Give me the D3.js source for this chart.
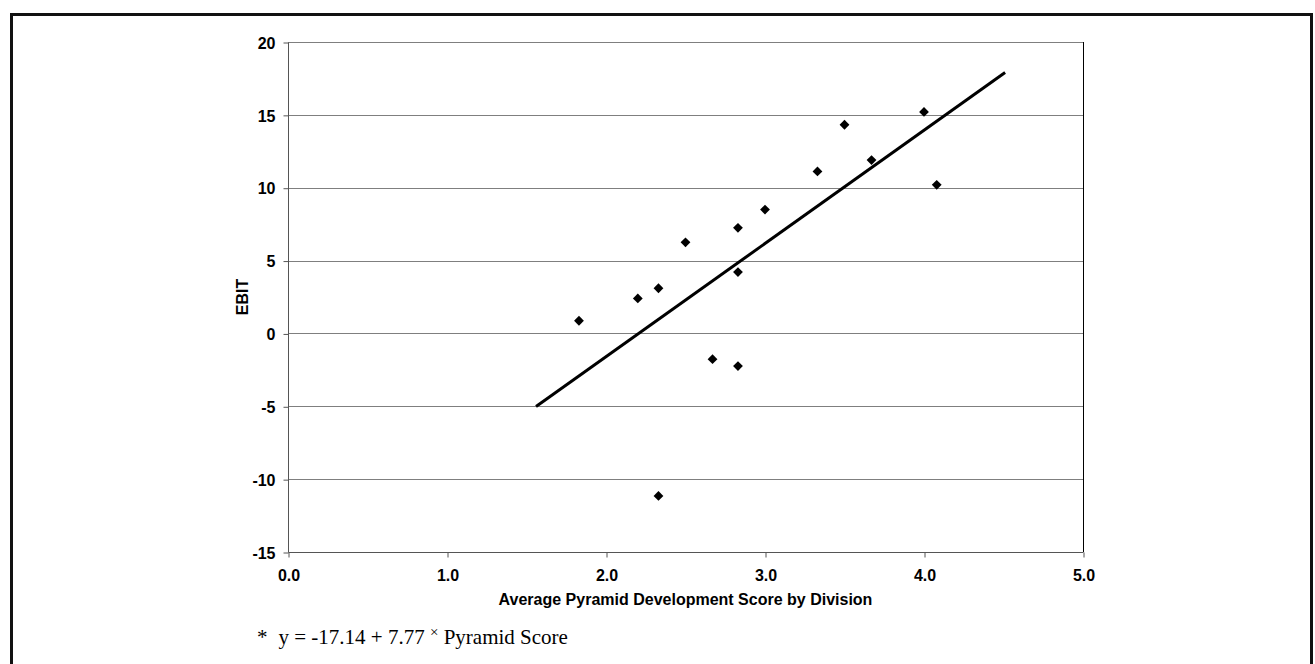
<!DOCTYPE html>
<html>
<head>
<meta charset="utf-8">
<style>
    body { margin: 0; background: #fff; }
    svg { display: block; }
    .tick text { font-family: Arial, 'Liberation Sans', sans-serif; font-weight: bold; font-size: 16px; fill: #000; }
    .axis-title { font-family: Arial, 'Liberation Sans', sans-serif; font-weight: bold; font-size: 16px; }
    .note { font-family: 'Times New Roman', 'Liberation Serif', serif; font-size: 21px; }
</style>
</head>
<body>
<svg width="1315" height="664"></svg>

<script src="https://d3js.org/d3.v7.min.js"></script>
<script>
// data
let scores = [1.83, 2.20, 2.33, 2.33, 2.50, 2.67, 2.83, 2.83, 2.83, 3.00, 3.33, 3.50, 3.67, 4.00, 4.08]
let ebit   = [0.87, 2.40, 3.10, -11.15, 6.25, -1.77, 7.25, 4.21, -2.24, 8.50, 11.12, 14.32, 11.90, 15.20, 10.20]

// fitted line, as given in the footnote
let intercept = -17.14
let slope = 7.77
let fitRange = [1.56, 4.51]

let xTicks = [0, 1, 2, 3, 4, 5]
let yTicks = [-15, -10, -5, 0, 5, 10, 15, 20]

let xTitle = "Average Pyramid Development Score by Division"
let yTitle = "EBIT"

let svg = d3.select("svg")

let margin = { left: 288, right: 1083, top: 42, bottom: 552 }

let x = d3.scaleLinear().domain([0, 5]).range([margin.left, margin.right])
let y = d3.scaleLinear().domain([-15, 20]).range([margin.bottom, margin.top])

// outer frame (bottom edge runs off the page)
svg.append("rect")
    .attr("x", 11.5).attr("y", 14.5)
    .attr("width", 1300).attr("height", 700)
    .attr("fill", "none")
    .attr("stroke", "#111")
    .attr("stroke-width", 3)

// gridlines
svg.append("g")
    .selectAll("line")
    .data(yTicks.filter(d => d > -15))
    .join("line")
    .attr("x1", margin.left).attr("x2", margin.right)
    .attr("y1", d => Math.round(y(d)) + 0.5)
    .attr("y2", d => Math.round(y(d)) + 0.5)
    .attr("stroke", "#7f7f7f")
    .attr("stroke-width", 1)

// right edge of the plot area
svg.append("line")
    .attr("x1", margin.right + 0.5).attr("x2", margin.right + 0.5)
    .attr("y1", margin.top).attr("y2", margin.bottom)
    .attr("stroke", "#000")

let xAxis = svg.append("g")
    .attr("transform", `translate(0.5,${margin.bottom + 0.5})`)
    .call(d3.axisBottom(x).tickValues(xTicks).tickFormat(d3.format(".1f")).tickSize(5).tickPadding(12))

let yAxis = svg.append("g")
    .attr("transform", `translate(${margin.left + 0.5},0.5)`)
    .call(d3.axisLeft(y).tickValues(yTicks).tickFormat(d => d < 0 ? "-" + Math.abs(d) : String(d)).tickSize(5).tickPadding(8))

xAxis.select(".domain").attr("stroke", "#555").attr("d", `M${margin.left},0H${margin.right}`)
yAxis.select(".domain").attr("stroke", "#555").attr("d", `M0,${margin.top}V${margin.bottom}`)
svg.selectAll(".tick line").attr("stroke", "#555")
yAxis.selectAll(".tick text").attr("dy", "0.36em")

// trend line
svg.append("line")
    .attr("x1", x(fitRange[0])).attr("y1", y(intercept + slope * fitRange[0]))
    .attr("x2", x(fitRange[1])).attr("y2", y(intercept + slope * fitRange[1]))
    .attr("stroke", "#000")
    .attr("stroke-width", 3)

// diamonds
let diamond = d3.symbol().type(d3.symbolSquare).size(48)
svg.append("g")
    .selectAll("path")
    .data(scores.map((s, i) => [s, ebit[i]]))
    .join("path")
    .attr("d", diamond)
    .attr("transform", d => `translate(${x(d[0])},${y(d[1])}) rotate(45)`)
    .attr("fill", "#000")

// axis titles
svg.append("text")
    .attr("class", "axis-title")
    .attr("x", (margin.left + margin.right) / 2)
    .attr("y", 605)
    .attr("text-anchor", "middle")
    .text(xTitle)

svg.append("text")
    .attr("class", "axis-title")
    .attr("transform", `translate(248,${(margin.top + margin.bottom) / 2}) rotate(-90)`)
    .attr("text-anchor", "middle")
    .text(yTitle)

// footnote
let note = svg.append("text")
    .attr("class", "note")
    .attr("x", 257)
    .attr("y", 644)
note.append("tspan").text("*")
note.append("tspan").attr("dx", 11).text("y = " + intercept + " + " + slope + " ")
note.append("tspan").attr("dy", -7).attr("font-size", 15).text("\u00d7")
note.append("tspan").attr("dy", 7).text(" Pyramid Score")
</script>
</body>
</html>
